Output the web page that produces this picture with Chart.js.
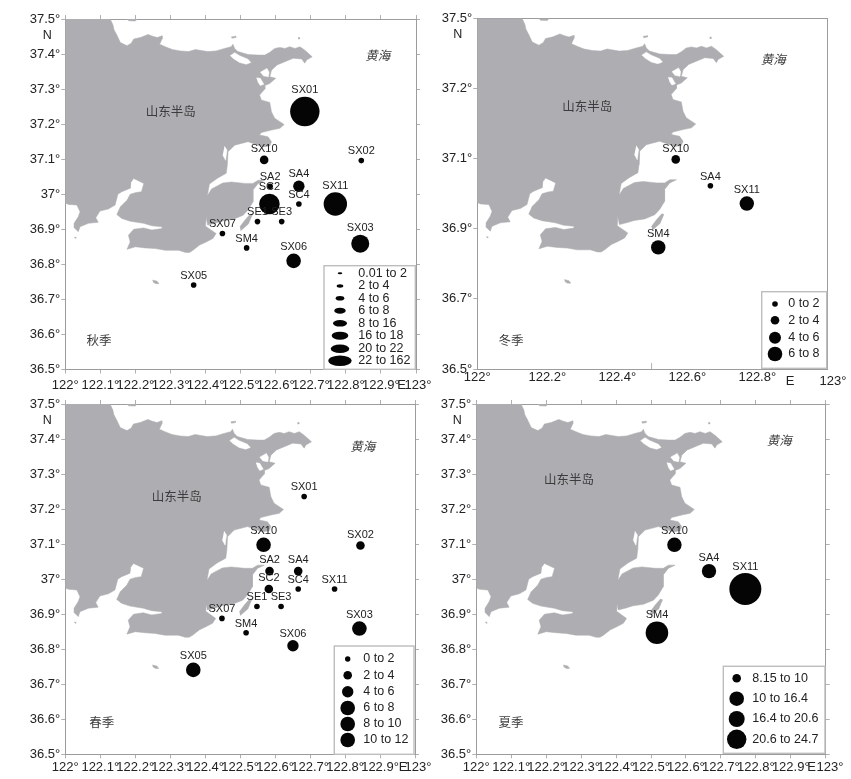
<!DOCTYPE html>
<html>
<head>
<meta charset="utf-8">
<title>Seasonal station map</title>
<script src="https://cdn.jsdelivr.net/npm/chart.js@4/dist/chart.umd.min.js"></script>
<style>
html, body { margin: 0; padding: 0; background: #fff; }
#page { position: relative; width: 851px; height: 779px; overflow: hidden; }
canvas { position: absolute; left: 0; top: 0; }
</style>
</head>
<body>
<div id="page">
	<canvas id="autumn" width="851" height="779"></canvas>
	<canvas id="winter" width="851" height="779"></canvas>
	<canvas id="spring" width="851" height="779"></canvas>
	<canvas id="summer" width="851" height="779"></canvas>
</div>
<script>
// stations
const stationNames = ["SX01", "SX02", "SX03", "SX05", "SX06", "SX07", "SX10", "SX11", "SA2", "SA4", "SC2", "SC4", "SE1", "SE3", "SM4"];
const stationLon = [122.683, 122.844, 122.841, 122.366, 122.651, 122.448, 122.567, 122.770, 122.584, 122.666, 122.582, 122.666, 122.548, 122.617, 122.517];
const stationLat = [37.236, 37.096, 36.859, 36.741, 36.810, 36.888, 37.098, 36.972, 37.023, 37.023, 36.972, 36.972, 36.922, 36.922, 36.847];

// values per season, read off the circle classes (null = station not shown)
const autumnValues = [150, 3, 17, 3, 12, 3, 5, 25, 3, 7, 21, 3, 3, 3, 3];
const winterValues = [null, null, null, null, null, null, 3, 7, null, 1.5, null, null, null, null, 7.5];
const springValues = [1.5, 3, 7, 9, 5, 1.5, 11, 1.5, 3, 3, 3, 1.5, 1.5, 1.5, 1.5];
const summerValues = [null, null, null, null, null, null, 12, 24, null, 11, null, null, null, null, 19];

// legend classes
const autumnClasses = ["0.01 to 2", "2 to 4", "4 to 6", "6 to 8", "8 to 16", "16 to 18", "20 to 22", "22 to 162"];
const winterClasses = ["0 to 2", "2 to 4", "4 to 6", "6 to 8"];
const springClasses = ["0 to 2", "2 to 4", "4 to 6", "6 to 8", "8 to 10", "10 to 12"];
const summerClasses = ["8.15 to 10", "10 to 16.4", "16.4 to 20.6", "20.6 to 24.7"];

// axis ticks
const xTicksTenth = [122, 122.1, 122.2, 122.3, 122.4, 122.5, 122.6, 122.7, 122.8, 122.9, 123];
const xLabelsTenth = ["122°", "122.1°", "122.2°", "122.3°", "122.4°", "122.5°", "122.6°", "122.7°", "122.8°", "122.9°", ""];
const yTicksTenth = [36.5, 36.6, 36.7, 36.8, 36.9, 37, 37.1, 37.2, 37.3, 37.4, 37.5];
const yLabelsTenth = ["36.5°", "36.6°", "36.7°", "36.8°", "36.9°", "37°", "37.1°", "37.2°", "37.3°", "37.4°", "37.5°"];
const xTicksWinter = [122, 122.2, 122.4, 122.6, 122.8, 123];
const xLabelsWinter = ["122°", "122.2°", "122.4°", "122.6°", "122.8°", ""];
const yTicksWinter = [36.5, 36.7, 36.9, 37.1, 37.3, 37.5];
const yLabelsWinter = ["36.5°", "36.7°", "36.9°", "37.1°", "37.2°", "37.5°"]; // second label really says 37.2° in the source

// coastline, lon/lat
const mainland = [[122,37.5],[122.128,37.5],[122.136,37.483],[122.139,37.469],[122.147,37.454],[122.157,37.433],[122.176,37.424],[122.188,37.431],[122.195,37.443],[122.214,37.447],[122.236,37.456],[122.249,37.451],[122.262,37.447],[122.276,37.452],[122.276,37.443],[122.269,37.428],[122.285,37.421],[122.305,37.413],[122.328,37.409],[122.352,37.407],[122.371,37.413],[122.383,37.411],[122.406,37.407],[122.43,37.409],[122.454,37.416],[122.473,37.421],[122.478,37.428],[122.483,37.416],[122.492,37.407],[122.521,37.399],[122.55,37.397],[122.569,37.397],[122.583,37.405],[122.597,37.416],[122.612,37.419],[122.626,37.416],[122.64,37.421],[122.655,37.416],[122.669,37.421],[122.683,37.411],[122.693,37.402],[122.704,37.392],[122.688,37.383],[122.683,37.374],[122.674,37.386],[122.65,37.388],[122.626,37.378],[122.604,37.369],[122.588,37.354],[122.583,37.335],[122.6,37.331],[122.583,37.316],[122.569,37.31],[122.569,37.3],[122.554,37.283],[122.559,37.269],[122.583,37.262],[122.588,37.235],[122.597,37.217],[122.612,37.207],[122.624,37.199],[122.612,37.188],[122.588,37.183],[122.559,37.176],[122.554,37.169],[122.578,37.164],[122.588,37.15],[122.583,37.138],[122.564,37.135],[122.521,37.15],[122.483,37.14],[122.464,37.121],[122.462,37.083],[122.459,37.06],[122.434,37.046],[122.411,37.029],[122.405,36.996],[122.417,37.015],[122.449,37.032],[122.474,37.035],[122.512,37.031],[122.535,37.031],[122.55,37.04],[122.569,37.04],[122.55,37.031],[122.535,37.012],[122.535,36.978],[122.521,36.955],[122.507,36.94],[122.478,36.928],[122.449,36.924],[122.426,36.917],[122.406,36.912],[122.402,36.931],[122.402,36.945],[122.4,36.909],[122.43,36.888],[122.421,36.874],[122.402,36.864],[122.383,36.855],[122.364,36.84],[122.354,36.834],[122.343,36.834],[122.323,36.84],[122.285,36.84],[122.257,36.845],[122.228,36.847],[122.2,36.85],[122.176,36.843],[122.185,36.864],[122.18,36.883],[122.195,36.9],[122.223,36.904],[122.247,36.898],[122.276,36.902],[122.276,36.907],[122.247,36.91],[122.223,36.917],[122.185,36.923],[122.161,36.931],[122.147,36.942],[122.157,36.964],[122.176,36.983],[122.185,37],[122.202,37.005],[122.217,37.007],[122.224,37.031],[122.195,37.045],[122.187,37.034],[122.185,37.017],[122.161,37.007],[122.15,37],[122.142,36.969],[122.123,36.958],[122.099,36.952],[122.087,36.933],[122.094,36.92],[122.066,36.917],[122.042,36.907],[122.037,36.893],[122.026,36.904],[122.025,36.917],[122.037,36.936],[122.042,36.95],[122.033,36.969],[122.009,36.971],[122,36.975]];
const pointIsland = [[122.5,36.896],[122.522,36.915],[122.533,36.941],[122.527,36.943],[122.512,36.926],[122.498,36.907]];
const southIsland = [[122.249,36.755],[122.262,36.752],[122.267,36.745],[122.258,36.745],[122.25,36.75]];
const northIsland = [[122.473,37.449],[122.486,37.451],[122.486,37.447],[122.475,37.445]];
const topIsland = [[122.175,37.5],[122.205,37.5],[122.2,37.494],[122.18,37.495]];
const westRock = [[122.025,36.877],[122.031,36.877],[122.03,36.873]];
const eastRock = [[122.664,37.447],[122.668,37.447],[122.668,37.443],[122.664,37.443]];
const lagoonNorth = [[122.47,37.395],[122.483,37.404],[122.497,37.395],[122.521,37.385],[122.529,37.376],[122.516,37.371],[122.497,37.376],[122.478,37.388]];
const lagoonEast = [[122.556,37.348],[122.575,37.359],[122.581,37.348],[122.579,37.335],[122.564,37.338]];
const lagoonHarbour = [[122.545,37.332],[122.556,37.331],[122.566,37.314],[122.556,37.31],[122.549,37.321]];
const lagoonBay = [[122.454,37.137],[122.461,37.126],[122.457,37.097],[122.449,37.112]];

const LAND = "#aeadb1";
const FRAME = "#9c9c9c";
const TICK = "#b0b0b0";
const TEXT = "#222222";
const LATIN = "'Liberation Sans', Arial, sans-serif";
const CJK = "'Noto Sans CJK SC', sans-serif";
const AXIS_W = 60; // room kept for y labels
const AXIS_H = 22; // room kept for x labels

// circle sizes per season: class upper limits and radius in px
const panels = [
	{
		id: "autumn", area: { left: 65.3, right: 416, top: 19, bottom: 369.5 }, ticksAround: true,
		values: autumnValues, limits: [2, 4, 6, 8, 16, 18, 22, 30, 162], radii: [2, 2.8, 4.3, 5.7, 7.3, 9, 10.3, 11.7, 14.7],
		xTicks: xTicksTenth, xLabels: xLabelsTenth, yTicks: yTicksTenth, yLabels: yLabelsTenth, xPad: 3.7, xLabelY: 385,
		legend: {
			box: [324, 265.7, 415.3, 369.3], symbolX: 340, textX: 358.3, classes: autumnClasses,
			rows: [273.3, 286, 298.3, 310.7, 323.3, 335.7, 348.7, 360.7],
			rx: [2.3, 3.3, 4.3, 5.7, 7, 8.3, 9.3, 11.7], ry: [1, 1.7, 2.3, 3, 3.3, 4, 4.3, 5.3]
		},
		peninsula: [170.7, 111], sea: [377.7, 55], season: "秋季", seasonAt: [99, 340], north: [47.3, 36], east: [401.7, 123, 418]
	},
	{
		id: "winter", area: { left: 477.3, right: 827.3, top: 18.5, bottom: 369 }, ticksAround: false, innerTick: 122.498,
		values: winterValues, limits: [2, 4, 6, 8], radii: [2.8, 4.3, 6, 7.2],
		xTicks: xTicksWinter, xLabels: xLabelsWinter, yTicks: yTicksWinter, yLabels: yLabelsWinter, xPad: 0.9, xLabelY: 381.7,
		legend: {
			box: [761.7, 291.7, 826.7, 368.3], symbolX: 775, textX: 788.3, classes: winterClasses,
			rows: [304, 320.3, 337.7, 354],
			rx: [2.8, 4.3, 6, 7.3], ry: [2.8, 4.3, 6, 7.3]
		},
		peninsula: [587.3, 106.3], sea: [773.3, 59.3], season: "冬季", seasonAt: [511, 340], north: [457.7, 34.3], east: [790, 123, 833]
	},
	{
		id: "spring", area: { left: 65.3, right: 415, top: 404, bottom: 754.3 }, ticksAround: true,
		values: springValues, limits: [2, 4, 6, 8, 10, 12], radii: [2.8, 4.3, 5.7, 7.3, 7.3, 7.3],
		xTicks: xTicksTenth, xLabels: xLabelsTenth, yTicks: yTicksTenth, yLabels: yLabelsTenth, xPad: 1.6, xLabelY: 767.7,
		legend: {
			box: [334.3, 646, 414, 754.3], symbolX: 347.7, textX: 363.3, classes: springClasses,
			rows: [659, 675.3, 691.7, 708, 724, 740],
			rx: [2.7, 4.3, 5.7, 7.3, 7.3, 7.3], ry: [2.7, 4.3, 5.7, 7.3, 7.3, 7.3]
		},
		peninsula: [176.7, 496.7], sea: [362.7, 446], season: "春季", seasonAt: [101.7, 722.7], north: [47.3, 420.7], east: [403, 123, 418]
	},
	{
		id: "summer", area: { left: 476.3, right: 825.7, top: 404, bottom: 754.3 }, ticksAround: true,
		values: summerValues, limits: [10, 16.4, 20.6, 24.7], radii: [4.3, 7.2, 11.3, 16],
		xTicks: xTicksTenth, xLabels: xLabelsTenth, yTicks: yTicksTenth, yLabels: yLabelsTenth, xPad: 1.6, xLabelY: 767.7,
		legend: {
			box: [723.3, 666.3, 825, 753.3], symbolX: 736.7, textX: 752.3, classes: summerClasses,
			rows: [678.3, 698.7, 719, 739.3],
			rx: [4.3, 7.3, 8, 9.7], ry: [4.3, 7.3, 8, 9.7]
		},
		peninsula: [569, 479.3], sea: [779.3, 440.7], season: "夏季", seasonAt: [511, 722.7], north: [457.3, 420.7], east: [811.7, 123, 830]
	}
];

function radiusFor(value, panel) {
	let i = panel.limits.findIndex(limit => value <= limit);
	return panel.radii[i < 0 ? panel.radii.length - 1 : i];
}

function polygon(points, color) {
	return {
		type: "line",
		data: points.map(p => ({ x: p[0], y: p[1] })),
		backgroundColor: color,
		borderColor: color,
		borderWidth: 0.5,
		pointRadius: 0,
		fill: "shape",
		tension: 0,
		order: color === LAND ? 3 : 2
	};
}

function text(ctx, str, x, y, font, color, align) {
	ctx.font = font;
	ctx.fillStyle = color;
	ctx.textAlign = align || "center";
	ctx.textBaseline = "middle";
	ctx.fillText(str, x, y);
}

// station names, legend box and map notes
const mapNotes = {
	id: "mapNotes",
	afterDatasetsDraw(chart, args, opts) {
		const ctx = chart.ctx;
		const panel = opts.panel;
		const lg = panel.legend;
		ctx.save();

		text(ctx, "山东半岛", panel.peninsula[0], panel.peninsula[1], "12.5px " + CJK, "#3c3c3c");
		text(ctx, "黄海", panel.sea[0], panel.sea[1], "italic 12.5px " + CJK, "#3c3c3c");
		text(ctx, panel.season, panel.seasonAt[0], panel.seasonAt[1], "12.5px " + CJK, "#3c3c3c");
		text(ctx, "N", panel.north[0], panel.north[1], "12.5px " + LATIN, TEXT);

		text(ctx, "E", panel.east[0], panel.xLabelY, "13px " + LATIN, TEXT);
		text(ctx, panel.east[1] + "°", panel.east[2], panel.xLabelY, "13px " + LATIN, TEXT);

		if (panel.innerTick) {
			const tx = chart.scales.x.getPixelForValue(panel.innerTick);
			ctx.strokeStyle = TICK;
			ctx.lineWidth = 1;
			ctx.beginPath();
			ctx.moveTo(tx, chart.chartArea.bottom - 6);
			ctx.lineTo(tx, chart.chartArea.bottom);
			ctx.stroke();
		}

		panel.values.forEach((v, i) => {
			if (v === null) return;
			const x = chart.scales.x.getPixelForValue(stationLon[i]);
			const y = chart.scales.y.getPixelForValue(stationLat[i]);
			text(ctx, stationNames[i], x, y - radiusFor(v, panel) - 6.4, "11px " + LATIN, TEXT);
		});

		ctx.fillStyle = "#fff";
		ctx.strokeStyle = "#bdbdbd";
		ctx.lineWidth = 1.4;
		ctx.fillRect(lg.box[0], lg.box[1], lg.box[2] - lg.box[0], lg.box[3] - lg.box[1]);
		ctx.strokeRect(lg.box[0], lg.box[1], lg.box[2] - lg.box[0], lg.box[3] - lg.box[1]);
		lg.classes.forEach((name, i) => {
			ctx.fillStyle = "#050505";
			ctx.beginPath();
			ctx.ellipse(lg.symbolX, lg.rows[i], lg.rx[i], lg.ry[i], 0, 0, Math.PI * 2);
			ctx.fill();
			text(ctx, name, lg.textX, lg.rows[i], "12.5px " + LATIN, TEXT, "left");
		});
		ctx.restore();
	}
};

// tick labels are clipped to the scale box, so the left and bottom axes keep their room
function fixSize(scale) {
	if (scale.options.position === "bottom") scale.height = AXIS_H;
	else if (scale.options.position === "left") scale.width = AXIS_W;
	else if (scale.isHorizontal()) scale.height = 0;
	else scale.width = 0;
}

panels.forEach(panel => {
	const bubbles = [];
	panel.values.forEach((v, i) => {
		if (v !== null) bubbles.push({ x: stationLon[i], y: stationLat[i], r: radiusFor(v, panel) });
	});
	const side = on => ({
		grid: { drawOnChartArea: false, drawTicks: on, tickLength: 4, tickColor: TICK },
		border: { display: true, color: FRAME, width: 1 },
		ticks: { display: false },
		afterFit: fixSize
	});
	new Chart(document.getElementById(panel.id), {
		type: "bubble",
		data: {
			datasets: [
				polygon(mainland, LAND),
				polygon(pointIsland, LAND),
				polygon(southIsland, LAND),
				polygon(northIsland, LAND),
				polygon(topIsland, LAND),
				polygon(westRock, LAND),
				polygon(eastRock, LAND),
				polygon(lagoonNorth, "#ffffff"),
				polygon(lagoonEast, "#ffffff"),
				polygon(lagoonHarbour, "#ffffff"),
				polygon(lagoonBay, "#ffffff"),
				{ data: bubbles, backgroundColor: "#050505", borderWidth: 0, order: 1 }
			]
		},
		plugins: [mapNotes],
		options: {
			responsive: false,
			animation: false,
			events: [],
			layout: { padding: { left: panel.area.left - AXIS_W, top: panel.area.top, right: 851 - panel.area.right, bottom: 779 - panel.area.bottom - AXIS_H } },
			plugins: { legend: { display: false }, tooltip: { enabled: false }, mapNotes: { panel: panel } },
			scales: {
				x: {
					type: "linear", position: "bottom", min: 122, max: 123,
					grid: { drawOnChartArea: false, drawTicks: panel.ticksAround, tickLength: 4, tickColor: TICK },
					border: { display: true, color: FRAME, width: 1 },
					afterBuildTicks: axis => { axis.ticks = panel.xTicks.map(v => ({ value: v })); },
					afterFit: fixSize,
					ticks: {
						autoSkip: false, maxRotation: 0, color: TEXT, font: { family: LATIN, size: 13 }, padding: panel.xPad,
						callback: v => panel.xLabels[panel.xTicks.findIndex(t => Math.abs(t - v) < 1e-6)]
					}
				},
				y: {
					type: "linear", position: "left", min: 36.5, max: 37.5,
					grid: { drawOnChartArea: false, drawTicks: true, tickLength: 4, tickColor: TICK },
					border: { display: true, color: FRAME, width: 1 },
					afterBuildTicks: axis => { axis.ticks = panel.yTicks.map(v => ({ value: v })); },
					afterFit: fixSize,
					ticks: {
						autoSkip: false, color: TEXT, font: { family: LATIN, size: 13 }, padding: 1,
						callback: v => panel.yLabels[panel.yTicks.findIndex(t => Math.abs(t - v) < 1e-6)]
					}
				},
				xTop: Object.assign({
					type: "linear", position: "top", min: 122, max: 123,
					afterBuildTicks: axis => { axis.ticks = panel.xTicks.map(v => ({ value: v })); }
				}, side(panel.ticksAround)),
				yRight: Object.assign({
					type: "linear", position: "right", min: 36.5, max: 37.5,
					afterBuildTicks: axis => { axis.ticks = panel.yTicks.map(v => ({ value: v })); }
				}, side(panel.ticksAround))
			}
		}
	});
});
</script>
</body>
</html>
